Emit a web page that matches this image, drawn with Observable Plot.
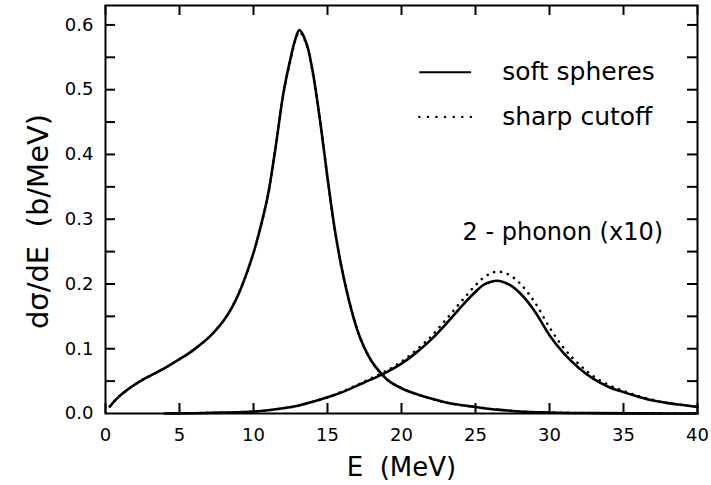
<!DOCTYPE html>
<html><head><meta charset="utf-8">
<script src="https://cdn.jsdelivr.net/npm/d3@7"></script>
<script src="https://cdn.jsdelivr.net/npm/@observablehq/plot@0.6"></script>
<style>body{margin:0;background:#fff} svg{display:block}</style>
</head><body><div id="chart"></div>
<script>
// One-phonon curves (E in MeV, dσ/dE in b/MeV)
const energy1 = [0.3,0.6,1,1.5,2,2.5,3,3.5,4,4.5,5,5.5,6,6.5,7,7.5,8,8.5,9,9.5,10,10.5,11,11.5,12,12.5,12.8,13.1,13.4,13.7,14,14.5,15,15.5,16,16.5,17,17.5,18,18.5,19,20,21,22,23,24,25,26,27,28,30,33,36,40];
const softSingle = [0.011,0.019,0.028,0.037,0.045,0.052,0.058,0.064,0.070,0.077,0.084,0.091,0.099,0.108,0.118,0.130,0.144,0.162,0.185,0.214,0.248,0.290,0.340,0.412,0.492,0.548,0.576,0.592,0.582,0.562,0.528,0.452,0.364,0.283,0.220,0.170,0.130,0.101,0.080,0.065,0.053,0.039,0.030,0.023,0.017,0.013,0.010,0.007,0.005,0.003,0.0015,0.0006,0.0002,0];
const sharpSingle = [0.011,0.019,0.028,0.037,0.045,0.052,0.058,0.064,0.070,0.077,0.084,0.091,0.099,0.108,0.118,0.130,0.144,0.162,0.185,0.214,0.248,0.290,0.340,0.411,0.490,0.546,0.574,0.589,0.580,0.561,0.527,0.452,0.364,0.283,0.220,0.170,0.130,0.101,0.080,0.065,0.053,0.039,0.030,0.023,0.017,0.013,0.010,0.007,0.005,0.003,0.0015,0.0006,0.0002,0];
// Two-phonon curves (x10)
const energy2 = [4,6,8,9,10,11,12,13,14,15,16,17,18,19,20,21,22,23,24,25,25.5,26,26.5,27,27.5,28,29,30,31,32,33,34,35,36,37,38,39,40];
const softDouble = [0,0.0005,0.0015,0.002,0.003,0.005,0.008,0.012,0.018,0.025,0.033,0.043,0.053,0.064,0.077,0.094,0.114,0.138,0.164,0.188,0.198,0.203,0.205,0.202,0.196,0.186,0.158,0.121,0.092,0.070,0.053,0.041,0.033,0.026,0.020,0.016,0.013,0.010];
const sharpDouble = [0,0.0005,0.0015,0.002,0.003,0.005,0.008,0.012,0.018,0.025,0.034,0.044,0.055,0.066,0.080,0.098,0.119,0.145,0.172,0.198,0.209,0.216,0.219,0.217,0.211,0.201,0.172,0.133,0.100,0.076,0.057,0.044,0.035,0.027,0.021,0.016,0.013,0.010];

const xTickValues = [0,5,10,15,20,25,30,35,40];
const yTickValues = [0,0.1,0.2,0.3,0.4,0.5,0.6];
const yMinorTicks = [0.05,0.1,0.15,0.2,0.25,0.3,0.35,0.4,0.45,0.5,0.55,0.6];
const legendLabels = ["soft spheres", "sharp cutoff"];
const annotationLabel = "2 - phonon (x10)";
const xTitle = "E\u00a0\u00a0(MeV)";
const yTitle = "dσ/dE\u00a0\u00a0(b/MeV)";

const toRows = (xs, ys) => xs.map((x, i) => ({x, y: ys[i]}));

const W = 711, H = 485, mL = 105, mR = 14, mT = 5, mB = 72;
const xDomain = [0, 40], yDomain = [0, 0.63];
const frameW = W - mL - mR, frameH = H - mT - mB;
// inward tick lengths (10 px) expressed in data units
const tickDX = 10 * (xDomain[1] - xDomain[0]) / frameW;
const tickDY = 10 * (yDomain[1] - yDomain[0]) / frameH;

const dotted = {strokeDasharray: "0.1 7", strokeLinecap: "round", strokeWidth: 2.6};
const solid = {strokeWidth: 2.6};
const tickStyle = {stroke: "black", strokeWidth: 2};

const leg = {x1: 21.2, x2: 24.7, xText: 26.8, ys: [0.527, 0.458]};

const chart = Plot.plot({
  width: W, height: H,
  marginLeft: mL, marginRight: mR, marginTop: mT, marginBottom: mB,
  style: {fontFamily: "DejaVu Sans", fontSize: "18px", color: "#000", background: "#fff"},
  x: {domain: xDomain},
  y: {domain: yDomain},
  marks: [
    Plot.frame({strokeWidth: 2, stroke: "black"}),
    Plot.axisX({ticks: xTickValues, tickSize: 0, tickPadding: 15, label: null, fontSize: 18}),
    Plot.axisY({ticks: yTickValues, tickSize: 0, tickPadding: 12, label: null, tickFormat: d3.format(".1f"), fontSize: 18}),
    Plot.ruleY(yMinorTicks, {y: d => d, x1: xDomain[0], x2: xDomain[0] + tickDX, ...tickStyle}),
    Plot.ruleY(yMinorTicks, {y: d => d, x1: xDomain[1] - tickDX, x2: xDomain[1], ...tickStyle}),
    Plot.ruleX(xTickValues, {x: d => d, y1: yDomain[0], y2: yDomain[0] + tickDY, ...tickStyle}),
    Plot.ruleX(xTickValues, {x: d => d, y1: yDomain[1] - tickDY, y2: yDomain[1], ...tickStyle}),
    Plot.line(toRows(energy1, sharpSingle), {x: "x", y: "y", curve: "monotone-x", ...dotted}),
    Plot.line(toRows(energy2, sharpDouble), {x: "x", y: "y", curve: "monotone-x", ...dotted}),
    Plot.line(toRows(energy1, softSingle), {x: "x", y: "y", curve: "monotone-x", ...solid}),
    Plot.line(toRows(energy2, softDouble), {x: "x", y: "y", curve: "monotone-x", ...solid}),
    Plot.link([legendLabels[0]], {x1: leg.x1, x2: leg.x2, y1: leg.ys[0], y2: leg.ys[0], ...solid, strokeWidth: 2}),
    Plot.link([legendLabels[1]], {x1: leg.x1, x2: leg.x2, y1: leg.ys[1], y2: leg.ys[1], ...dotted, strokeWidth: 2.4, strokeDasharray: "0.1 8.5"}),
    Plot.text(legendLabels, {x: leg.xText, y: (d, i) => leg.ys[i], text: d => d, textAnchor: "start", fontSize: 25}),
    Plot.text([annotationLabel], {x: 30.9, y: 0.28, text: d => d, fontSize: 24}),
    Plot.text([xTitle], {frameAnchor: "bottom", dy: 54, text: d => d, textAnchor: "middle", lineAnchor: "middle", fontSize: 26}),
    Plot.text([yTitle], {frameAnchor: "left", dx: -67, dy: 12, rotate: -90, text: d => d, textAnchor: "middle", lineAnchor: "middle", fontSize: 29, letterSpacing: "1.5px"})
  ]
});
document.getElementById("chart").append(chart);
</script>
</body></html>
